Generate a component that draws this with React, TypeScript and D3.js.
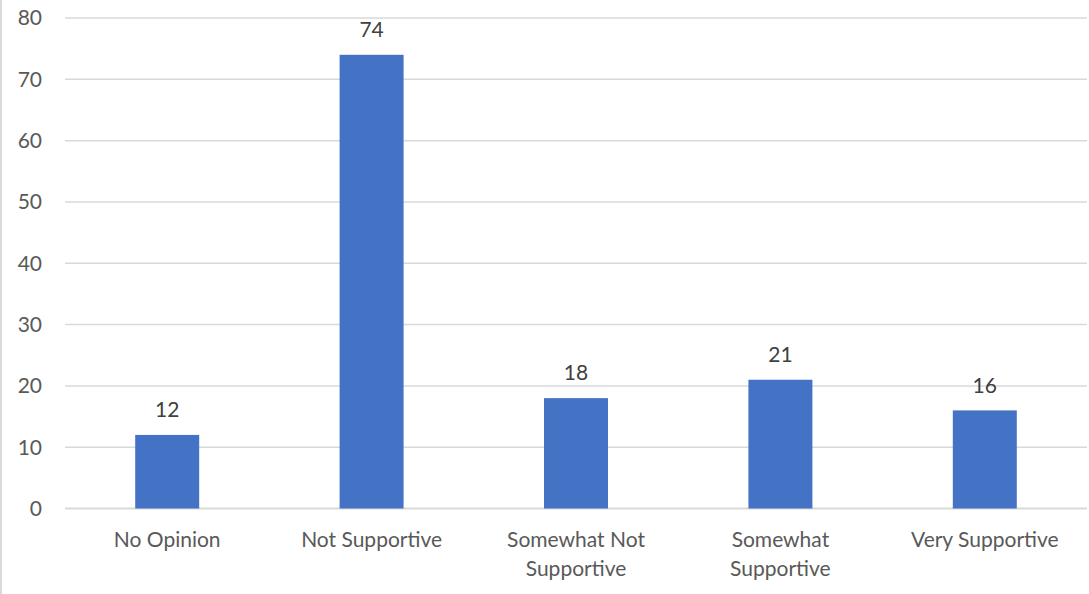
import React from "react";
import * as d3 from "d3";

const categories = ["No Opinion", "Not Supportive", "Somewhat Not Supportive", "Somewhat Supportive", "Very Supportive"];
const categoryLines = [["No Opinion"], ["Not Supportive"], ["Somewhat Not", "Supportive"], ["Somewhat", "Supportive"], ["Very Supportive"]];
const values = [12, 74, 18, 21, 16];
const yTicks = [0, 10, 20, 30, 40, 50, 60, 70, 80];

const W = 1089;
const H = 594;
const FONT = "Lato, 'Open Sans', sans-serif";

export default function App() {
  const x = d3.scaleBand<string>().domain(categories).range([65, 1087]).paddingInner(0.687).paddingOuter(0.3435);
  const y = d3.scaleLinear().domain([0, 80]).range([508.5, 18]);
  return (
    <svg width={W} height={H} style={{ position: "absolute", left: 0, top: 0 }}>
      <rect x={0} y={0} width={W} height={H} fill="#fff" />
      <line x1={1} x2={1} y1={0} y2={H} stroke="#d9d9d9" strokeWidth={2} />
      {yTicks.map((t) => (
        <g key={t}>
          <line x1={65} x2={1087} y1={y(t)} y2={y(t)} stroke="#d9d9d9" strokeWidth={t === 0 ? 2 : 1.5} />
          <text x={42} y={y(t)} dy="0.35em" textAnchor="end" fontFamily={FONT} fontSize={21} fill="#595959">{t}</text>
        </g>
      ))}
      {categories.map((c, i) => {
        const bx = x(c)!;
        const bw = x.bandwidth();
        return (
          <g key={c}>
            <rect x={bx} y={y(values[i])} width={bw} height={y(0) - y(values[i])} fill="#4472c4" />
            <text x={bx + bw / 2} y={y(values[i]) - 25} dy="0.35em" textAnchor="middle" fontFamily={FONT} fontSize={21} fill="#404040">{values[i]}</text>
            {categoryLines[i].map((l, j) => (
              <text key={j} x={bx + bw / 2} y={540 + j * 29} dy="0.35em" textAnchor="middle" fontFamily={FONT} fontSize={21} fill="#595959">{l}</text>
            ))}
          </g>
        );
      })}
    </svg>
  );
}
